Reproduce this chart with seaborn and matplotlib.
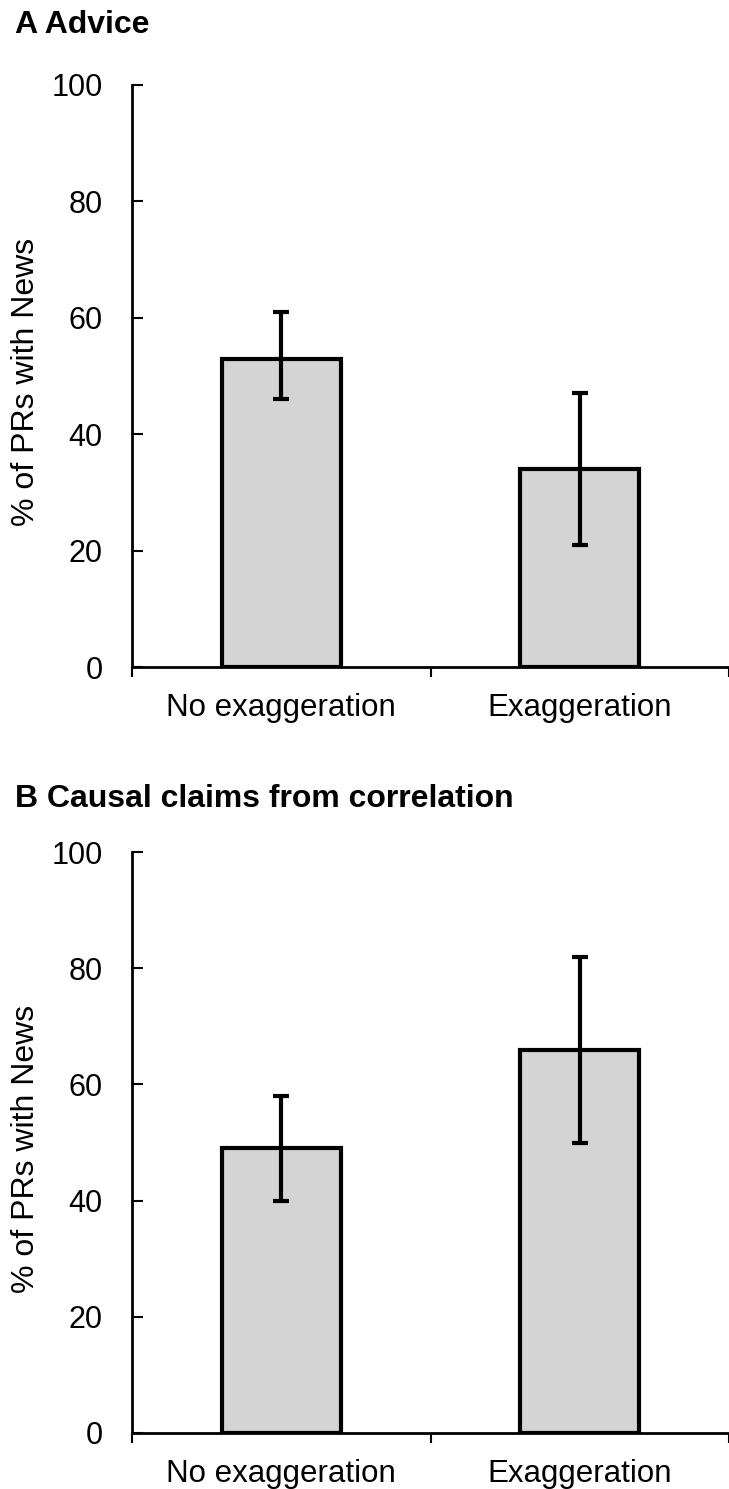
import matplotlib
matplotlib.use("Agg")
import matplotlib.pyplot as plt
import seaborn as sns
import pandas as pd
import numpy as np

categories = ["No exaggeration", "Exaggeration"]
advice_mean = [53, 34]
advice_low = [46, 21]
advice_high = [61, 47]
causal_mean = [49, 66]
causal_low = [40, 50]
causal_high = [58, 82]
yticks = [0, 20, 40, 60, 80, 100]
titles = ["A Advice", "B Causal claims from correlation"]
ylabel = "% of PRs with News"

sns.set_theme(style="white")
plt.rcParams['font.family'] = ['Liberation Sans', 'DejaVu Sans']
plt.rcParams['text.color'] = 'black'
plt.rcParams['xtick.color'] = 'black'
plt.rcParams['ytick.color'] = 'black'
plt.rcParams['axes.labelcolor'] = 'black'

fig = plt.figure(figsize=(7.29, 14.89), dpi=100)
W, H = 729, 1489
panels = [
    (advice_mean, advice_low, advice_high, 85, 667, 33),
    (causal_mean, causal_low, causal_high, 852, 1433, 807),
]
for i, (m, lo, hi, ytop, ybot, ty) in enumerate(panels):
    ax = fig.add_axes([132 / W, 1 - ybot / H, (W - 132) / W, (ybot - ytop) / H])
    df = pd.DataFrame({"cat": categories, "val": m})
    sns.barplot(data=df, x="cat", y="val", ax=ax, color="#d4d4d4",
                edgecolor="black", linewidth=3, width=0.4, errorbar=None,
                saturation=1)
    m_arr = np.array(m); lo_arr = np.array(lo); hi_arr = np.array(hi)
    ax.errorbar(np.arange(len(m)), m_arr, yerr=[m_arr - lo_arr, hi_arr - m_arr],
                fmt="none", ecolor="black", elinewidth=3, capsize=5.5, capthick=3)
    ax.set_ylim(0, 100)
    ax.set_xlim(-0.5, 1.46)
    ax.set_yticks(yticks)
    ax.set_yticklabels([str(t) for t in yticks], fontsize=22)
    ax.set_xticks([-0.5, 0.5, 1.5], minor=False)
    ax.set_xticklabels(["", "", ""])
    ax.set_xticks([0, 1], minor=True)
    ax.set_xticklabels(categories, minor=True, fontsize=22.5)
    ax.tick_params(axis="x", which="major", direction="out", length=7, width=1.5, bottom=True)
    ax.tick_params(axis="x", which="minor", length=0, pad=19, bottom=True)
    ax.tick_params(axis="y", direction="in", length=8, width=1.5, pad=21, left=True)
    ax.set_xlabel("")
    ax.set_ylabel(ylabel, fontsize=23)
    ax.yaxis.label.set_verticalalignment("center")
    ax.yaxis.set_label_coords(-(132 - 26) / (W - 132), 1 - (382 - 85) / (667 - 85))
    for s in ["top", "right"]:
        ax.spines[s].set_visible(False)
    for s in ["left", "bottom"]:
        ax.spines[s].set_linewidth(2)
        ax.spines[s].set_color("black")
    fig.text(15 / W, 1 - ty / H, titles[i], fontsize=23, fontweight="bold",
             ha="left", va="baseline")

fig.savefig("out.png", dpi=100)
